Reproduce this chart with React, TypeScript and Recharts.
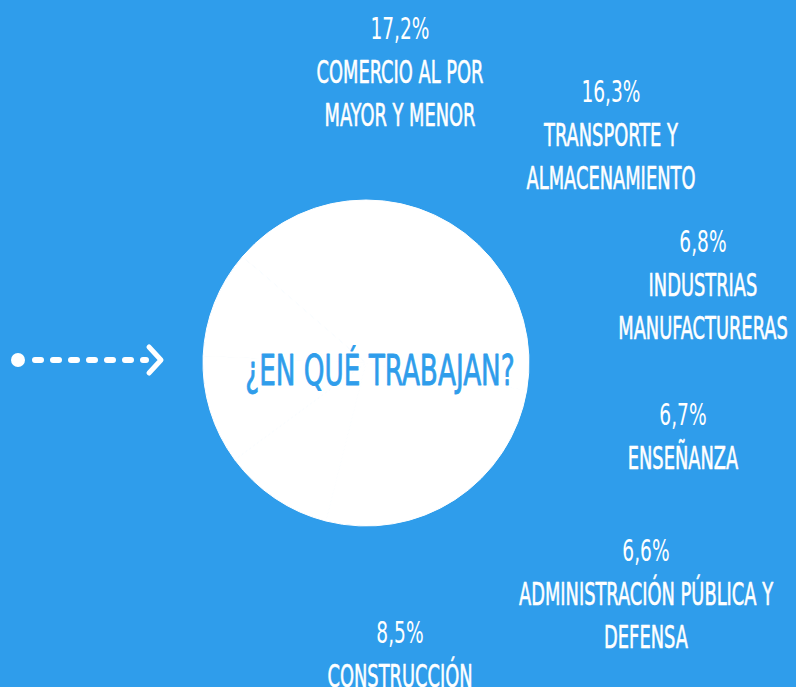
import { PieChart, Pie } from "recharts";

const BG = "#2f9deb";

const values = [17.2, 16.3, 6.8, 6.7, 6.6, 8.5];
const labelLines = [
  ["COMERCIO AL POR", "MAYOR Y MENOR"],
  ["TRANSPORTE Y", "ALMACENAMIENTO"],
  ["INDUSTRIAS", "MANUFACTURERAS"],
  ["ENSEÑANZA"],
  ["ADMINISTRACIÓN PÚBLICA Y", "DEFENSA"],
  ["CONSTRUCCIÓN"],
];
const title = "¿EN QUÉ TRABAJAN?";

// where each label block sits (centre of the percentage line)
const labelAnchors = [
  { x: 400, y: 28 },
  { x: 611, y: 91 },
  { x: 703, y: 241 },
  { x: 683, y: 414 },
  { x: 646, y: 550 },
  { x: 400, y: 632 },
];

const FONT = "'DejaVu Sans Condensed', 'Liberation Sans Narrow', sans-serif";
const LINE = 43;

const data = values.map((v, i) => ({ name: labelLines[i].join(" "), value: v }));

const fmt = (v: number) => v.toFixed(1).replace(".", ",") + "%";

function Line({ x, y, size, sx, text, color = "#fff", sw = 0 }: any) {
  return (
    <text
      transform={`translate(${x},${y + size * 0.36}) scale(${sx},1)`}
      textAnchor="middle"
      fontFamily={FONT}
      fontSize={size}
      fill={color}
      stroke={sw ? color : "none"}
      strokeWidth={sw}
      strokeLinejoin="round"
    >
      {text}
    </text>
  );
}

function renderLabel(props: any) {
  const i = props.index;
  const a = labelAnchors[i];
  return (
    <g key={`lbl-${i}`}>
      <Line x={a.x} y={a.y} size={30} sx={0.69} text={fmt(values[i])} />
      {labelLines[i].map((t, j) => (
        <Line key={j} x={a.x} y={a.y + LINE * (j + 1)} size={32} sx={0.62} text={t} sw={0.6} />
      ))}
    </g>
  );
}

export default function App() {
  return (
    <div style={{ position: "absolute", left: 0, top: 0, width: 796, height: 687, background: BG, overflow: "hidden" }}>
      <PieChart width={796} height={687} margin={{ top: 0, right: 0, bottom: 0, left: 0 }}>
        <Pie
          data={data}
          dataKey="value"
          cx={366}
          cy={363}
          outerRadius={163}
          startAngle={90}
          endAngle={-270}
          fill="#fff"
          stroke="#fff"
          strokeWidth={1}
          label={renderLabel}
          labelLine={false}
          isAnimationActive={false}
        />
      </PieChart>
      <svg width={796} height={687} style={{ position: "absolute", left: 0, top: 0, pointerEvents: "none" }}>
        <Line x={380} y={370} size={43} sx={0.68} text={title} color={BG} sw={0.8} />
        <circle cx={18} cy={360} r={7} fill="#fff" />
        <line x1={35} y1={360} x2={146} y2={360} stroke="#fff" strokeWidth={6} strokeLinecap="round" strokeDasharray="6 12" />
        <polyline points="149,347 161,360 149,373" fill="none" stroke="#fff" strokeWidth={5} strokeLinecap="round" strokeLinejoin="round" />
      </svg>
    </div>
  );
}
